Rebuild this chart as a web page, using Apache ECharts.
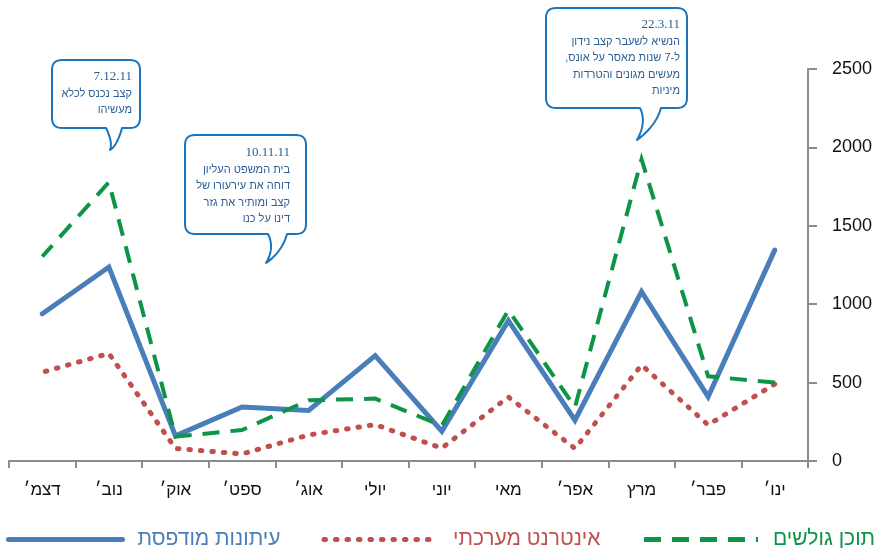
<!DOCTYPE html>
<html>
<head>
<meta charset="utf-8">
<script src="https://cdn.jsdelivr.net/npm/echarts@6/dist/echarts.min.js"></script>
<style>
  html, body { margin: 0; padding: 0; background: #fff; }
  #chart { width: 882px; height: 548px; }
</style>
</head>
<body>
<div id="chart"></div>
<script>
// Months (January first; the category axis is reversed so it reads right to left)
const months = ['ינו׳', 'פבר׳', 'מרץ', 'אפר׳', 'מאי', 'יוני', 'יולי', 'אוג׳', 'ספט׳', 'אוק׳', 'נוב׳', 'דצמ׳'];

const seriesNames = ['עיתונות מודפסת', 'אינטרנט מערכתי', 'תוכן גולשים'];
const printedPress = [1345, 410, 1080, 260, 895, 190, 672, 322, 345, 160, 1237, 939];
const newsSites    = [490, 230, 612, 80, 408, 82, 232, 166, 45, 80, 686, 566];
const userContent  = [500, 540, 1925, 343, 962, 225, 398, 387, 198, 155, 1778, 1304];

const yTicks = [0, 500, 1000, 1500, 2000, 2500];

// Callout texts: date line followed by the body lines
const noteDates = ['7.12.11', '10.11.11', '22.3.11'];
const noteBodies = [
  ['קצב נכנס לכלא', 'מעשיהו'],
  ['בית המשפט העליון', 'דוחה את עירעורו של', 'קצב ומותיר את גזר', 'דינו על כנו'],
  ['הנשיא לשעבר קצב נידון', 'ל-7 שנות מאסר על אונס,\u200F', 'מעשים מגונים והטרדות', 'מיניות']
];

// Callout geometry: box [x, y, w, h], tail [baseLeft, baseRight, tipX, tipY], text right edge, first line y
const noteLayout = [
  { box: [52, 60, 88, 68],  tail: [106, 122, 110, 150], right: 132, top: 77 },
  { box: [185, 135, 121, 99], tail: [268, 287, 266, 263], right: 290, top: 153 },
  { box: [546, 8, 141, 100],  tail: [640, 661, 637, 140], right: 680, top: 25 }
];

const COLORS = { blue: '#4a7ebb', red: '#c0504d', green: '#0c9447', axis: '#8c8c8c', note: '#1b75bc', noteText: '#2b5f96' };
const FONT = '"Liberation Sans", "DejaVu Sans", sans-serif';

// Quadratic curve sampled into points (start point excluded)
function quad(p0, c, p1, n) {
  const pts = [];
  for (let i = 1; i <= n; i++) {
    const t = i / n, u = 1 - t;
    pts.push([u * u * p0[0] + 2 * u * t * c[0] + t * t * p1[0],
              u * u * p0[1] + 2 * u * t * c[1] + t * t * p1[1]]);
  }
  return pts;
}

// Rounded box outline with a curved tail hanging from its bottom edge
function bubblePoints(l) {
  const [x, y, w, h] = l.box;
  const [b1, b2, tx, ty] = l.tail;
  const r = 10, bt = y + h, n = 8;
  let pts = [[x + r, y], [x + w - r, y]];
  pts = pts.concat(quad([x + w - r, y], [x + w, y], [x + w, y + r], n));
  pts.push([x + w, bt - r]);
  pts = pts.concat(quad([x + w, bt - r], [x + w, bt], [x + w - r, bt], n));
  pts.push([b2, bt]);
  pts = pts.concat(quad([b2, bt], [b2 - 5, bt + 18], [tx, ty], 12));
  pts = pts.concat(quad([tx, ty], [b1 + 7, bt + 14], [b1, bt], 12));
  pts.push([x + r, bt]);
  pts = pts.concat(quad([x + r, bt], [x, bt], [x, bt - r], n));
  pts.push([x, y + r]);
  pts = pts.concat(quad([x, y + r], [x, y], [x + r, y], n));
  return pts;
}

const graphics = [];
noteLayout.forEach((l, i) => {
  graphics.push({
    type: 'polygon', z: 100,
    shape: { points: bubblePoints(l) },
    style: { fill: '#ffffff', stroke: COLORS.note, lineWidth: 2, lineJoin: 'round' }
  });
  const lines = [noteDates[i]].concat(noteBodies[i]);
  lines.forEach((t, k) => {
    graphics.push({
      type: 'text', z: 101,
      style: {
        text: t,
        x: l.right, y: l.top + k * 16.5,
        textAlign: 'right', textVerticalAlign: 'middle',
        font: (k === 0 ? '13px "Liberation Serif", serif' : '11px ' + FONT),
        fill: COLORS.noteText
      }
    });
  });
});

const chart = echarts.init(document.getElementById('chart'));
chart.setOption({
  animation: false,
  backgroundColor: '#ffffff',
  grid: { left: 9, right: 74, top: 69, bottom: 87 },
  legend: {
    left: 6, top: 529, padding: 0,
    itemWidth: 114, itemHeight: 14, itemGap: 41,
    itemStyle: { opacity: 0 },
    lineStyle: { width: 5 },
    data: seriesNames.map((n, i) => ({
      name: n,
      textStyle: { color: [COLORS.blue, COLORS.red, COLORS.green][i] }
    })),
    textStyle: { fontFamily: FONT, fontSize: 21, padding: [0, 0, 0, 10] }
  },
  xAxis: {
    type: 'category',
    data: months,
    inverse: true,
    boundaryGap: true,
    axisLine: { lineStyle: { color: COLORS.axis, width: 2 } },
    axisTick: { show: true, length: 7, lineStyle: { color: COLORS.axis, width: 2 } },
    axisLabel: { color: '#111', fontFamily: FONT, fontSize: 17, margin: 21 },
    splitLine: { show: false }
  },
  yAxis: {
    type: 'value',
    position: 'right',
    min: yTicks[0], max: yTicks[yTicks.length - 1], interval: yTicks[1] - yTicks[0],
    axisLine: { show: true, lineStyle: { color: COLORS.axis, width: 2 } },
    axisTick: { show: true, length: 9, lineStyle: { color: COLORS.axis, width: 2 } },
    axisLabel: { color: '#111', fontFamily: FONT, fontSize: 18, margin: 24, formatter: v => String(v) },
    splitLine: { show: false }
  },
  series: [
    {
      name: seriesNames[0], type: 'line', data: printedPress,
      symbol: 'none', color: COLORS.blue,
      lineStyle: { color: COLORS.blue, width: 5, cap: 'round', join: 'miter' },
      z: 3
    },
    {
      name: seriesNames[1], type: 'line', data: newsSites,
      symbol: 'none', color: COLORS.red,
      lineStyle: { color: COLORS.red, width: 5, type: [1.5, 10], cap: 'round', join: 'round' },
      z: 2
    },
    {
      name: seriesNames[2], type: 'line', data: userContent,
      symbol: 'none', color: COLORS.green,
      lineStyle: { color: COLORS.green, width: 4, type: [17, 11], cap: 'butt', join: 'miter' },
      z: 4
    }
  ],
  graphic: graphics
});
</script>
</body>
</html>
